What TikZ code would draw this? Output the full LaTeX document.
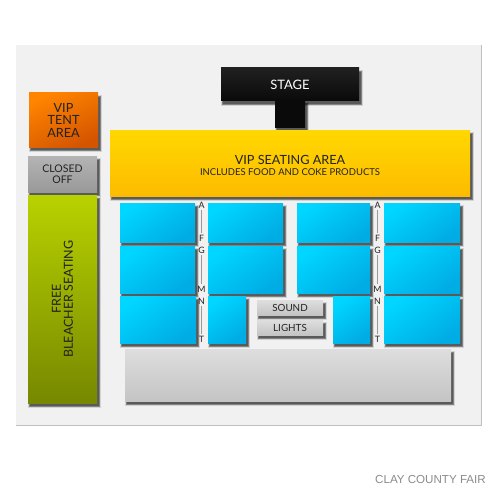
\documentclass[tikz,border=0pt]{standalone}
\usepackage{fontspec}
\setmainfont{Lato}
\newfontfamily\footfont{Liberation Sans}
\usetikzlibrary{calc}
\definecolor{bluetop}{HTML}{00D6FF}
\definecolor{bluebot}{HTML}{00ACE4}
\definecolor{yeltop}{HTML}{FFD800}
\definecolor{yelbot}{HTML}{FDBB00}
\definecolor{grntop}{HTML}{B8D200}
\definecolor{grnbot}{HTML}{768800}
\definecolor{ortop}{HTML}{FF8400}
\definecolor{orbot}{HTML}{D45500}
\definecolor{cltop}{HTML}{B4B4B4}
\definecolor{clbot}{HTML}{999999}
\definecolor{gytop}{HTML}{DEDEDE}
\definecolor{gybot}{HTML}{C4C4C4}
\definecolor{sttop}{HTML}{202020}
\definecolor{stbot}{HTML}{0A0A0A}
\definecolor{panelc}{HTML}{F1F1F1}
\definecolor{inkc}{HTML}{222222}
\newcommand{\seatblock}[9]{% name, x1, y1, x2, y2, top, bottom, angle, text
  \foreach \s/\o in {1.6/0.12,1.1/0.18,0.6/0.24,0.2/0.3}{
    \fill[black,opacity=\o] (#2+2-\s,#3+4-\s) rectangle (#4+2+\s,#5+3+\s);
  }
  \node[seat,minimum width={(#4-#2)*0.02cm},minimum height={(#5-#3)*0.02cm},
    top color=#6,bottom color=#7,shading angle=#8] (#1) at ({(#2+#4)/2},{(#3+#5)/2}) {#9};
}
% stacked centred lines with a fixed distance between baselines
\newcommand{\linestack}[2]{\vbox{\lineskiplimit=-20pt\relax\baselineskip=#1\relax\halign{\hfil##\hfil\cr #2\crcr}}}
\tikzset{
  seat/.style={inner sep=0pt,outer sep=0pt,align=center,text=inkc},
  aisle/.style={inner sep=0pt,font=\fontsize{5}{5}\selectfont,text=inkc},
  aisleline/.style={draw=black!40,line width=0.75pt,shorten >=1pt,shorten <=1pt},
}
\begin{document}
\begin{tikzpicture}[x=0.02cm,y=-0.02cm]
\useasboundingbox (0,0) rectangle (500,500);
\fill[white] (0,0) rectangle (500,500);
\fill[black!25] (16,45) rectangle (481.5,426);
\fill[panelc] (16,45) rectangle (481,425.3);
% stage
\seatblock{stage}{221}{68}{359}{101}{sttop}{stbot}{0}{\fontsize{7.4}{9}\selectfont\color{white}STAGE}
\seatblock{stem}{275}{100}{305}{127}{stbot}{stbot}{0}{}
% left column
\seatblock{tent}{29}{93}{98}{147}{ortop}{orbot}{25}{\fontsize{7.2}{7.1}\selectfont\linestack{7.1pt}{VIP\cr TENT\cr AREA}}
\seatblock{closed}{28}{156}{97}{192}{cltop}{clbot}{0}{\fontsize{6}{6}\selectfont\linestack{6pt}{CLOSED\cr OFF}}
\seatblock{free}{28}{195}{97}{403}{grntop}{grnbot}{0}{\rotatebox{90}{\fontsize{7.1}{6.8}\selectfont\linestack{6.8pt}{FREE\cr BLEACHER SEATING}}}
% VIP
\seatblock{vip}{110}{130}{470}{196}{yeltop}{yelbot}{0}{\vbox{\vskip3.2pt\linestack{6.2pt}{\fontsize{7.2}{7}\selectfont VIP SEATING AREA\cr \fontsize{5.4}{6}\selectfont INCLUDES FOOD AND COKE PRODUCTS}}}
% blue rows
\seatblock{aa}{120}{203}{195}{242}{bluetop}{bluebot}{35}{}
\seatblock{ab}{208}{203}{283}{242}{bluetop}{bluebot}{35}{}
\seatblock{ac}{297}{203}{370}{242}{bluetop}{bluebot}{35}{}
\seatblock{ad}{384}{203}{460}{242}{bluetop}{bluebot}{35}{}
\seatblock{ba}{120}{246}{195}{293}{bluetop}{bluebot}{35}{}
\seatblock{bb}{208}{246}{283}{293}{bluetop}{bluebot}{35}{}
\seatblock{bc}{297}{246}{370}{293}{bluetop}{bluebot}{35}{}
\seatblock{bd}{384}{246}{460}{293}{bluetop}{bluebot}{35}{}
\seatblock{ca}{120}{296}{196}{343}{bluetop}{bluebot}{35}{}
\seatblock{cb}{208}{296}{246}{343}{bluetop}{bluebot}{35}{}
\seatblock{cc}{333}{296}{370}{343}{bluetop}{bluebot}{35}{}
\seatblock{cd}{384}{296}{460}{343}{bluetop}{bluebot}{35}{}
% sound / lights
\seatblock{sound}{257}{300}{323}{315}{gytop}{gybot}{0}{\fontsize{5.6}{7}\selectfont SOUND}
\seatblock{lights}{257}{320}{323}{335}{gytop}{gybot}{0}{\fontsize{5.6}{7}\selectfont LIGHTS}
% bottom block
\seatblock{floor}{125}{349}{451}{401}{gytop}{gybot}{0}{}
% aisle letters
\foreach \p/\x in {l/201.5,r/377.5}{
  \node[aisle] (A\p) at (\x,205) {A};
  \node[aisle] (F\p) at (\x,238.5) {F};
  \node[aisle] (G\p) at (\x,250) {G};
  \node[aisle] (M\p) at (\x,289.5) {M};
  \node[aisle] (N\p) at (\x,301) {N};
  \node[aisle] (T\p) at (\x,339) {T};
  \draw[aisleline] (A\p) -- (F\p);
  \draw[aisleline] (G\p) -- (M\p);
  \draw[aisleline] (N\p) -- (T\p);
}
\node[inner sep=0pt,font=\footfont\fontsize{6.6}{8}\selectfont,text=black!45] (foot) at (430.5,480) {CLAY COUNTY FAIR};
\end{tikzpicture}
\end{document}
